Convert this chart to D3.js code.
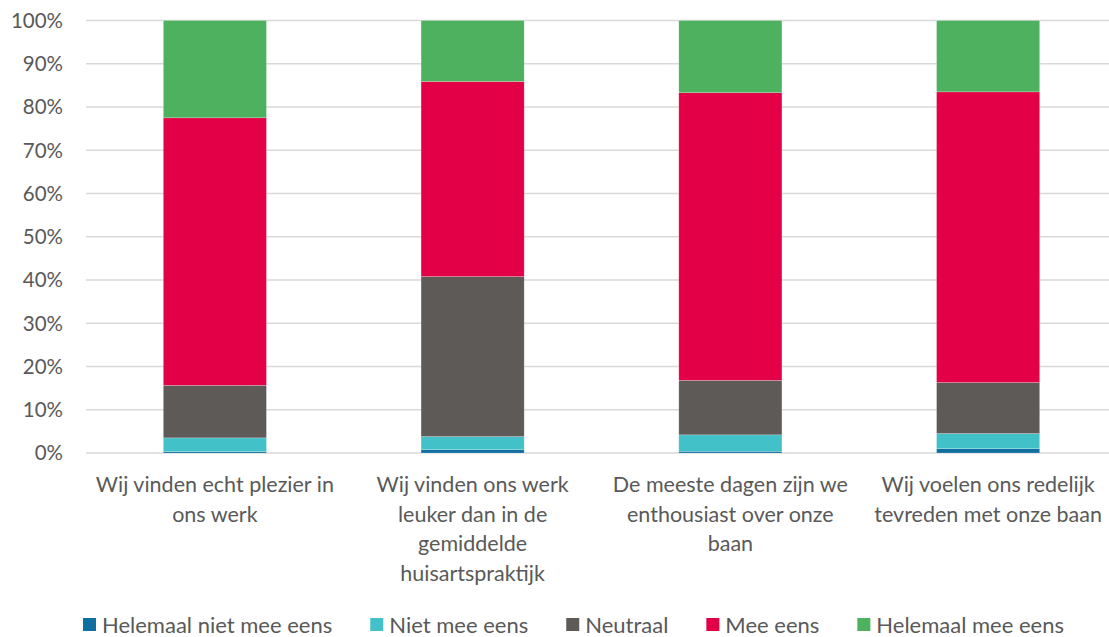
<!DOCTYPE html>
<html><head><meta charset="utf-8">
<script src="https://cdn.jsdelivr.net/npm/d3@7"></script>
<style>body{margin:0;background:#fff;} text{font-family:Lato,"Open Sans",sans-serif;fill:#595959;}</style>
</head><body><svg id="c" width="1109" height="637"></svg>
<script>
const categories = [
  ["Wij vinden echt plezier in","ons werk"],
  ["Wij vinden ons werk","leuker dan in de","gemiddelde","huisartspraktijk"],
  ["De meeste dagen zijn we","enthousiast over onze","baan"],
  ["Wij voelen ons redelijk","tevreden met onze baan"]
];
const seriesNames = ["Helemaal niet mee eens","Niet mee eens","Neutraal","Mee eens","Helemaal mee eens"];
const helemaalNiet = [0.3, 0.8, 0.4, 1.0];
const nietMee = [3.2, 3.0, 3.8, 3.5];
const neutraal = [12.15, 37.0, 12.6, 11.8];
const mee = [61.85, 45.1, 66.5, 67.2];
const helemaalMee = [22.5, 14.1, 16.7, 16.5];
const colors = ["#0E6FA0","#42C1C8","#5E5A57","#E40046","#4EB15F"];
const ticks = [0,10,20,30,40,50,60,70,80,90,100];

(function(){
const svg = d3.select("#c");
const pl = 86, pr = 1117, pt = 20.5, pb = 453;
const idx = d3.range(categories.length);
const x = d3.scaleBand().domain(idx).range([pl,pr]).paddingInner(0).paddingOuter(0);
const y = d3.scaleLinear().domain([0,100]).range([pb,pt]);
const barW = x.bandwidth()*0.4;

svg.append("g").selectAll("line").data(ticks).join("line")
  .attr("x1",pl).attr("x2",pr).attr("y1",d=>y(d)).attr("y2",d=>y(d))
  .attr("stroke","#D9D9D9").attr("stroke-width",1.3);
svg.append("g").selectAll("text").data(ticks).join("text")
  .attr("x",63).attr("y",d=>y(d)).attr("dy","0.36em").attr("text-anchor","end")
  .style("font-size","20.5px").text(d=>d+"%");

const rows = idx.map(i=>({i, v:[helemaalNiet[i],nietMee[i],neutraal[i],mee[i],helemaalMee[i]]}));
const stacked = d3.stack().keys([0,1,2,3,4]).value((d,k)=>d.v[k])(rows);
svg.append("g").selectAll("g").data(stacked).join("g").attr("fill",(d,k)=>colors[k])
  .selectAll("rect").data(d=>d).join("rect")
  .attr("x",d=>x(d.data.i)+x.bandwidth()/2-barW/2).attr("width",barW)
  .attr("y",d=>y(d[1])).attr("height",d=>y(d[0])-y(d[1]))
  .attr("stroke","rgba(255,255,255,0.35)").attr("stroke-width",0.6);

const cl = svg.append("g");
idx.forEach(i=>{
  const t = cl.append("text").attr("text-anchor","middle").style("font-size","21.5px");
  categories[i].forEach((ln,j)=>{
    t.append("tspan").attr("x",x(i)+x.bandwidth()/2).attr("y",492+j*29.7).text(ln);
  });
});

const lg = svg.append("g");
const items=[];
seriesNames.forEach((n,k)=>{
  const g = lg.append("g");
  g.append("rect").attr("x",0).attr("y",-6).attr("width",13).attr("height",13).attr("fill",colors[k]);
  const t = g.append("text").attr("x",19).attr("y",1).attr("dy","0.36em").style("font-size","22px").text(n);
  items.push({g,w:19 + t.node().getComputedTextLength()});
});
const gap = 38;
const total = d3.sum(items,d=>d.w)+gap*(items.length-1);
let start = 573.5 - total/2;
items.forEach(it=>{ it.g.attr("transform",`translate(${start},624)`); start += it.w+gap; });
})();
</script></body></html>
